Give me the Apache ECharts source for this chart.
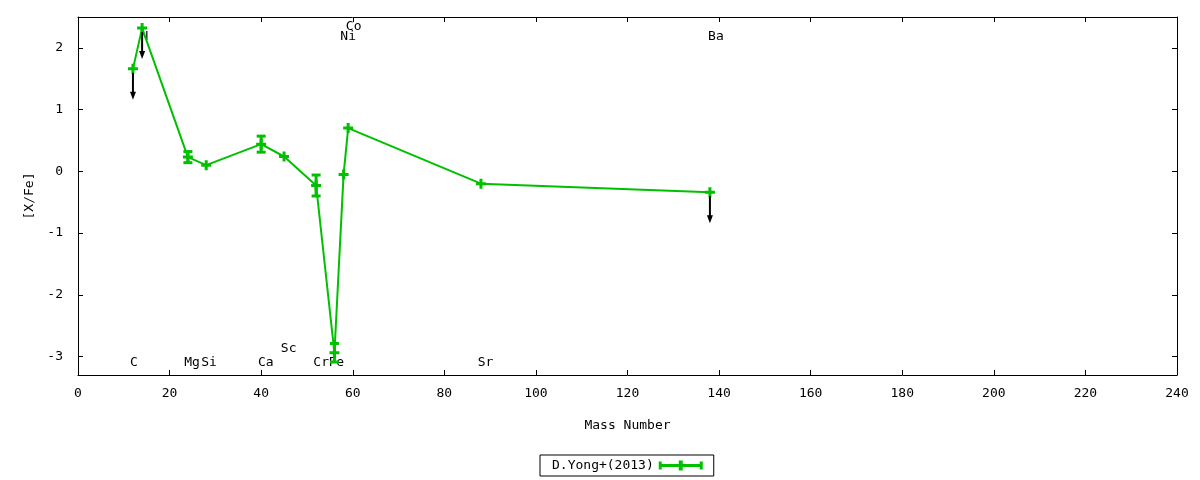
<!DOCTYPE html>
<html><head><meta charset="utf-8">
<script src="https://cdn.jsdelivr.net/npm/echarts@6/dist/echarts.min.js"></script>
<style>html,body{margin:0;padding:0;background:#fff}#c{width:1200px;height:480px}</style>
</head><body><div id="c"></div>
<script>
// ---- data ----
const elements   = ['C','N','Mg','Si','Ca','Sc','Cr','Fe','Ni','Co','Sr','Ba'];
const massNumber = [12, 14, 24, 28, 40, 45, 52, 56, 58, 59, 88, 138];
const xFe        = [1.66, 2.32, 0.23, 0.10, 0.44, 0.24, -0.23, -2.94, -0.05, 0.70, -0.20, -0.34];
const xFeErr     = [0, 0, 0.09, 0, 0.13, 0, 0.17, 0.15, 0, 0, 0, 0];
const isUpperLimit = [true, true, false, false, false, false, false, false, false, false, false, true];
const arrowLength = 0.5;
const labelX = [12.2, 14.5, 24.9, 28.6, 41.0, 46.0, 53.1, 56.4, 59.0, 60.2, 89.0, 139.3];
const labelY = [-3.10, 2.18, -3.10, -3.10, -3.10, -2.87, -3.10, -3.10, 2.18, 2.34, -3.10, 2.18];
const xRange = [0, 240], xStep = 20;
const yRange = [-3.3, 2.5];
const seriesName = 'D.Yong+(2013)';

const GREEN = '#00c000';
const FONT = 'DejaVu Sans Mono';
const FS = 13;

const lineData = massNumber.map((m, i) => [m, xFe[i]]);
const errData = [];
massNumber.forEach((m, i) => { if (xFeErr[i] > 0) errData.push([m, xFe[i], xFeErr[i]]); });
const limData = [];
massNumber.forEach((m, i) => { if (isUpperLimit[i]) limData.push([m, xFe[i]]); });
const labData = elements.map((e, i) => [labelX[i], labelY[i], e]);

const plusPath = 'path://M3.5,0H6.5V3.5H10V6.5H6.5V10H3.5V6.5H0V3.5H3.5Z';
const legendPath = 'path://M0,1H3V3.5H20V0H24V3.5H41V1H44V9H41V6.5H24V10H20V6.5H3V9H0Z';

const chart = echarts.init(document.getElementById('c'), null, {renderer: 'canvas'});
const axisCommon = {
  axisLine: {show: true, onZero: false, lineStyle: {color: '#000', width: 1}},
  axisTick: {show: true, inside: true, length: 5, lineStyle: {color: '#000'}},
  splitLine: {show: false},
};
chart.setOption({
  animation: false,
  backgroundColor: '#fff',
  grid: {left: 78, right: 23, top: 17, bottom: 105, show: false},
  legend: {
    data: [{name: seriesName, icon: legendPath}],
    left: 540, top: 455,
    align: 'right',
    itemWidth: 44, itemHeight: 10,
    borderColor: '#000', borderWidth: 1, borderRadius: 0,
    padding: [4, 11, 4, 12],
    itemStyle: {borderWidth: 0},
    textStyle: {fontFamily: FONT, fontSize: FS, color: '#000'},
    selectedMode: false
  },
  xAxis: [
    Object.assign({}, axisCommon, {
      type: 'value', min: xRange[0], max: xRange[1], interval: xStep, position: 'bottom',
      name: 'Mass Number', nameLocation: 'middle', nameGap: 44,
      nameTextStyle: {fontFamily: FONT, fontSize: FS, color: '#000'},
      axisLabel: {fontFamily: FONT, fontSize: FS, color: '#000', margin: 12}
    }),
    Object.assign({}, axisCommon, {
      type: 'value', min: xRange[0], max: xRange[1], interval: xStep, position: 'top',
      axisLabel: {show: false}
    })
  ],
  yAxis: [
    Object.assign({}, axisCommon, {
      type: 'value', min: yRange[0], max: yRange[1], splitNumber: 5, position: 'left',
      name: '[X/Fe]', nameLocation: 'middle', nameGap: 36, nameRotate: 90,
      nameTextStyle: {fontFamily: FONT, fontSize: FS, color: '#000'},
      axisLabel: {fontFamily: FONT, fontSize: FS, color: '#000', margin: 15, showMinLabel: false, showMaxLabel: false}
    }),
    Object.assign({}, axisCommon, {
      type: 'value', min: yRange[0], max: yRange[1], splitNumber: 5, position: 'right',
      axisLabel: {show: false}
    })
  ],
  series: [
    {
      type: 'custom', name: 'labels', z: 1, silent: true,
      data: labData,
      renderItem: function (params, api) {
        const p = api.coord([api.value(0), api.value(1)]);
        return {type: 'text', x: p[0], y: p[1],
          style: {text: labData[params.dataIndex][2], fill: '#000', font: FS + 'px "' + FONT + '"',
            textAlign: 'center', verticalAlign: 'middle'}};
      }
    },
    {
      type: 'line', name: seriesName, z: 3,
      data: lineData,
      symbol: plusPath, symbolSize: 10, symbolKeepAspect: true,
      showAllSymbol: true,
      itemStyle: {color: GREEN, borderWidth: 0},
      lineStyle: {color: GREEN, width: 2}
    },
    {
      type: 'custom', name: 'err', z: 4, silent: true,
      data: errData,
      renderItem: function (params, api) {
        const x = api.value(0), y = api.value(1), e = api.value(2);
        const t = api.coord([x, y + e]), b = api.coord([x, y - e]);
        const hw = 4.5;
        return {type: 'group', children: [
          {type: 'line', shape: {x1: t[0], y1: t[1], x2: b[0], y2: b[1]}, style: {stroke: GREEN, lineWidth: 3}},
          {type: 'rect', shape: {x: t[0] - hw, y: t[1] - 1.5, width: 2 * hw, height: 3}, style: {fill: GREEN}},
          {type: 'rect', shape: {x: b[0] - hw, y: b[1] - 1.5, width: 2 * hw, height: 3}, style: {fill: GREEN}}
        ]};
      }
    },
    {
      type: 'custom', name: 'limits', z: 5, silent: true,
      data: limData,
      renderItem: function (params, api) {
        const x = api.value(0), y = api.value(1);
        const p0 = api.coord([x, y]), p1 = api.coord([x, y - arrowLength]);
        return {type: 'group', children: [
          {type: 'line', shape: {x1: p0[0], y1: p0[1] + 4, x2: p1[0], y2: p1[1] - 6}, style: {stroke: '#000', lineWidth: 2}},
          {type: 'polygon', shape: {points: [[p1[0] - 3, p1[1] - 8], [p1[0] + 3, p1[1] - 8], [p1[0], p1[1]]]}, style: {fill: '#000'}}
        ]};
      }
    }
  ]
});
</script></body></html>
